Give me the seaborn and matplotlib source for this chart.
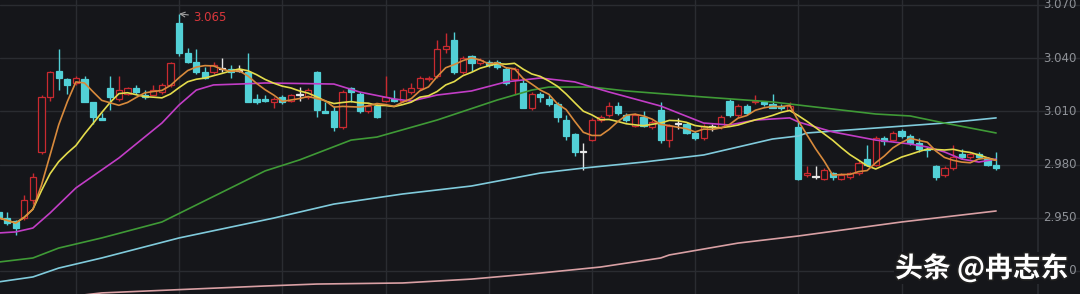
import numpy as np
import pandas as pd
import matplotlib
matplotlib.use("Agg")
import matplotlib.pyplot as plt
import matplotlib.patheffects as pe
import seaborn as sns

# ---------------- data ----------------
opens = [2.953, 2.950, 2.948, 2.950, 2.960, 2.987, 3.018, 3.033, 3.028, 3.026,
         3.028, 3.015, 3.006, 3.023, 3.017, 3.020, 3.023, 3.019, 3.019, 3.021,
         3.025, 3.060, 3.043, 3.038, 3.032, 3.032, 3.034, 3.034, 3.033, 3.032,
         3.017, 3.017, 3.015, 3.018, 3.016, 3.019, 3.018, 3.032, 3.010, 3.010,
         3.001, 3.023, 3.020, 3.010, 3.013, 3.016, 3.017, 3.016, 3.021, 3.023,
         3.028, 3.030, 3.045, 3.050, 3.032, 3.041, 3.037, 3.038, 3.038, 3.034,
         3.028, 3.026, 3.012, 3.020, 3.017, 3.014, 3.005, 2.997, 2.987, 2.994,
         3.005, 3.008, 3.013, 3.008, 3.002, 3.007, 3.001, 3.011, 2.994, 3.003,
         3.003, 2.998, 2.995, 3.001, 3.001, 3.016, 3.008, 3.013, 3.015, 3.015,
         3.014, 3.013, 3.011, 3.001, 2.974, 2.973, 2.972, 2.975, 2.972, 2.973,
         2.975, 2.983, 2.980, 2.995, 2.994, 2.999, 2.996, 2.992, 2.989, 2.979,
         2.974, 2.978, 2.986, 2.984, 2.986, 2.983, 2.980]
highs = [2.954, 2.953, 2.949, 2.963, 2.975, 3.019, 3.033, 3.045, 3.029, 3.030,
         3.030, 3.015, 3.009, 3.030, 3.030, 3.024, 3.025, 3.022, 3.025, 3.026,
         3.038, 3.065, 3.046, 3.045, 3.035, 3.038, 3.040, 3.036, 3.036, 3.043,
         3.020, 3.019, 3.018, 3.019, 3.020, 3.024, 3.023, 3.033, 3.015, 3.013,
         3.022, 3.024, 3.021, 3.014, 3.014, 3.030, 3.022, 3.023, 3.026, 3.030,
         3.030, 3.050, 3.054, 3.055, 3.041, 3.042, 3.040, 3.039, 3.039, 3.035,
         3.035, 3.029, 3.021, 3.021, 3.019, 3.015, 3.008, 2.998, 2.992, 3.006,
         3.008, 3.015, 3.015, 3.009, 3.009, 3.010, 3.005, 3.015, 3.003, 3.006,
         3.004, 2.999, 3.003, 3.003, 3.008, 3.017, 3.014, 3.014, 3.019, 3.016,
         3.020, 3.014, 3.015, 3.004, 2.979, 2.979, 2.978, 2.976, 2.975, 2.976,
         2.982, 2.991, 2.996, 2.996, 2.999, 3.000, 2.997, 2.995, 2.990, 2.980,
         2.979, 2.991, 2.989, 2.987, 2.987, 2.984, 2.987]
lows = [2.949, 2.946, 2.940, 2.949, 2.958, 2.986, 3.016, 3.022, 3.020, 3.025,
        3.015, 3.003, 3.005, 3.011, 3.016, 3.019, 3.020, 3.017, 3.019, 3.020,
        3.024, 3.041, 3.037, 3.031, 3.028, 3.031, 3.032, 3.029, 3.032, 3.015,
        3.014, 3.015, 3.012, 3.014, 3.015, 3.016, 3.017, 3.007, 3.009, 2.999,
        3.000, 3.015, 3.009, 3.009, 3.006, 3.015, 3.015, 3.015, 3.020, 3.022,
        3.027, 3.029, 3.043, 3.031, 3.031, 3.033, 3.036, 3.035, 3.034, 3.025,
        3.020, 3.012, 3.011, 3.015, 3.013, 3.004, 2.994, 2.985, 2.977, 2.993,
        3.004, 3.007, 3.008, 3.004, 3.001, 3.001, 3.000, 2.992, 2.990, 3.000,
        2.997, 2.994, 2.994, 2.999, 3.000, 3.007, 3.007, 3.008, 3.014, 3.013,
        3.012, 3.011, 3.010, 2.971, 2.973, 2.972, 2.971, 2.971, 2.971, 2.972,
        2.974, 2.979, 2.979, 2.991, 2.993, 2.995, 2.991, 2.987, 2.984, 2.971,
        2.973, 2.977, 2.983, 2.983, 2.983, 2.979, 2.977]
closes = [2.950, 2.947, 2.944, 2.960, 2.973, 3.018, 3.032, 3.029, 3.025, 3.029,
          3.015, 3.007, 3.005, 3.018, 3.022, 3.023, 3.021, 3.018, 3.022, 3.025,
          3.037, 3.043, 3.038, 3.032, 3.029, 3.036, 3.034, 3.032, 3.033, 3.015,
          3.015, 3.016, 3.017, 3.015, 3.019, 3.019, 3.022, 3.011, 3.009, 3.001,
          3.021, 3.021, 3.010, 3.013, 3.007, 3.018, 3.016, 3.022, 3.023, 3.029,
          3.029, 3.045, 3.047, 3.032, 3.040, 3.037, 3.039, 3.036, 3.035, 3.026,
          3.034, 3.012, 3.020, 3.018, 3.014, 3.007, 2.996, 2.987, 2.987, 3.005,
          3.007, 3.013, 3.009, 3.005, 3.008, 3.002, 3.004, 2.994, 3.002, 3.003,
          2.998, 2.995, 3.002, 3.001, 3.007, 3.008, 3.013, 3.009, 3.016, 3.014,
          3.012, 3.012, 3.013, 2.972, 2.975, 2.973, 2.977, 2.973, 2.974, 2.975,
          2.981, 2.980, 2.995, 2.993, 2.998, 2.996, 2.992, 2.989, 2.988, 2.973,
          2.978, 2.984, 2.984, 2.986, 2.984, 2.980, 2.978]

# long moving averages, read at sparse candle positions
ma20_idx = [0, 2, 4, 6, 9, 14, 19, 21, 23, 25, 28, 31, 39, 42, 46, 48, 51, 55, 59, 63,
            67, 71, 77, 82, 85, 88, 92, 93, 97, 102, 106, 108, 110, 112, 114, 116]
ma20_val = [2.9414, 2.9420, 2.9442, 2.9527, 2.9668, 2.9837, 3.0034, 3.0136, 3.0220, 3.0249,
            3.0254, 3.0260, 3.0254, 3.0209, 3.0170, 3.0158, 3.0192, 3.0215, 3.0266, 3.0288,
            3.0266, 3.0209, 3.0130, 3.0034, 3.0023, 3.0051, 3.0063, 3.0040, 2.9984, 2.9938,
            2.9916, 2.9899, 2.9871, 2.9831, 2.9814, 2.9831]
ma60_idx = [0, 4, 7, 12, 19, 23, 31, 35, 41, 44, 51, 58, 62, 64, 69, 73, 82, 90, 94,
            102, 106, 110, 116]
ma60_val = [2.9250, 2.9273, 2.9329, 2.9386, 2.9476, 2.9572, 2.9764, 2.9826, 2.9938, 2.9955,
            3.0051, 3.0164, 3.0220, 3.0237, 3.0237, 3.0215, 3.0181, 3.0153, 3.0130,
            3.0085, 3.0074, 3.0034, 2.9978]
ma120_idx = [0, 4, 7, 12, 21, 32, 39, 47, 55, 63, 68, 75, 82, 86, 90, 93, 94, 102, 110, 116]
ma120_val = [2.9138, 2.9166, 2.9216, 2.9273, 2.9386, 2.9498, 2.9577, 2.9634, 2.9679, 2.9752,
             2.9780, 2.9814, 2.9854, 2.9899, 2.9944, 2.9961, 2.9978, 3.0006, 3.0034, 3.0063]
ma250_idx = [10, 12, 31, 37, 47, 55, 63, 70, 77, 78, 86, 93, 105, 116]
ma250_val = [2.9065, 2.9076, 2.9115, 2.9126, 2.9132, 2.9154, 2.9188, 2.9222, 2.9273, 2.9290,
             2.9357, 2.9397, 2.9476, 2.9538]

price_ticks = [2.920, 2.950, 2.980, 3.010, 3.040, 3.070]
date_grid = [9, 21, 33, 45, 57, 69, 81, 93, 105]
peak_label = "3.065"
watermark = "头条 @冉志东"

# ---------------- style ----------------
BG = "#15161a"
GRID = "#2a2c31"
UP = "#c92a30"
DOWN = "#52d0d6"
DOJI = "#e6e6e6"

sns.set_theme(style="dark")
plt.rcParams["font.family"] = ["DejaVu Sans"]

fig = plt.figure(figsize=(10.8, 2.94), dpi=100, facecolor=BG)
ax = fig.add_axes([0, 0, 1, 1], facecolor=BG)

# pixel mapping: candle i at px = -1.5 + 8.6*i ; price 3.070 at px 5, 0.000564 per px
STEP, X0 = 8.6, -1.5
ax.set_xlim((0 - X0) / STEP, (1080 - X0) / STEP)
ax.set_ylim(3.0728 - 0.000564 * 294, 3.0728)

ax.set_yticks(price_ticks)
ax.set_xticks(date_grid)
ax.tick_params(labelbottom=False, labelleft=False, length=0)
ax.grid(True, color=GRID, lw=1)
for s in ax.spines.values():
    s.set_visible(False)
ax.axvline((1038 - X0) / STEP, color=GRID, lw=1.2)

df = pd.DataFrame(dict(i=np.arange(len(closes)), o=opens, h=highs, l=lows, c=closes))
df["ma5"] = df["c"].rolling(5, min_periods=1).mean()
df["ma10"] = df["c"].rolling(10, min_periods=1).mean()

col = np.where(df.c > df.o, UP, np.where(df.c < df.o, DOWN, DOJI))
face = np.where(df.c > df.o, BG, col)
ax.vlines(df.i, df.l, df.h, colors=col, lw=1, zorder=2)
height = np.maximum((df.c - df.o).abs(), 0.0006)
bottom = np.minimum(df.o, df.c)
ax.bar(df.i, height, bottom=bottom, width=0.7, color=face, edgecolor=col,
       linewidth=0.9, zorder=2.5)

lw = 1.2
sns.lineplot(x=ma250_idx, y=ma250_val, ax=ax, color="#d9a0a4", lw=lw, zorder=3)
sns.lineplot(x=ma120_idx, y=ma120_val, ax=ax, color="#80cbdc", lw=lw, zorder=3)
sns.lineplot(x=ma60_idx, y=ma60_val, ax=ax, color="#3f9a36", lw=lw, zorder=3)
sns.lineplot(x=ma20_idx, y=ma20_val, ax=ax, color="#c23dc6", lw=lw, zorder=3)
sns.lineplot(data=df, x="i", y="ma10", ax=ax, color="#e4dc4c", lw=lw, zorder=3.2)
sns.lineplot(data=df, x="i", y="ma5", ax=ax, color="#d88a3c", lw=lw, zorder=3.3)
ax.set_xlabel("")
ax.set_ylabel("")

# peak annotation
pk = int(np.argmax(highs))
ax.annotate(peak_label, xy=(pk, highs[pk]), xytext=((193 - X0) / STEP, 3.0728 - 0.000564 * 17.5),
            color="#d8373c", fontsize=8.5, va="center", ha="left",
            arrowprops=dict(arrowstyle="->", color="#a0a0a0", lw=0.8,
                            shrinkA=1, shrinkB=0))

# price labels on right
for v in price_ticks:
    ax.text((1043 - X0) / STEP, v, f"{v:.3f}", color="#8e9197", fontsize=8.5,
            va="center", ha="left", zorder=4)

fig.text(0.989, 0.088, watermark, fontsize=20, fontweight="bold", color="white",
         family=["Noto Sans CJK SC", "DejaVu Sans"], ha="right", va="center", zorder=10,
         path_effects=[pe.withStroke(linewidth=2.5, foreground="#202020")],
         bbox=dict(facecolor=BG, edgecolor="none", pad=1))

fig.savefig("out.png", dpi=100, facecolor=BG)
